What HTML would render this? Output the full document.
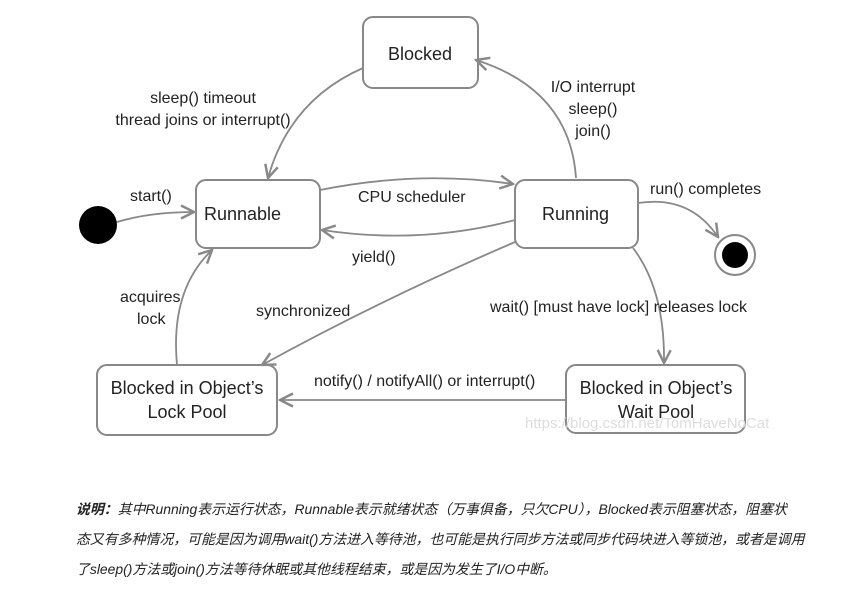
<!DOCTYPE html>
<html><head><meta charset="utf-8"><style>
body{margin:0;background:#fff;width:852px;height:600px;overflow:hidden}
svg text{font-family:"Liberation Sans",sans-serif;font-size:16px;fill:#222}
.p{position:absolute;left:76px;font-family:"Liberation Sans","Noto Sans CJK SC",sans-serif;font-size:13.9px;font-style:italic;color:#222;white-space:nowrap}
</style></head><body>
<svg width="852" height="480" style="position:absolute;left:0;top:0">
<defs><marker id="a" viewBox="0 0 10 10" refX="9" refY="5" markerWidth="9" markerHeight="9" orient="auto"><path d="M1,1 L9,5 L1,9" fill="none" stroke="#888" stroke-width="1.5"/></marker></defs>
<g fill="#fff" stroke="#888" stroke-width="2">
<rect x="363" y="17" width="115" height="71" rx="10"/>
<rect x="196" y="180" width="124" height="68" rx="10"/>
<rect x="515" y="180" width="123" height="68" rx="10"/>
<rect x="97" y="365" width="180" height="70" rx="10"/>
<rect x="566" y="365" width="179" height="68" rx="10"/>
</g>
<circle cx="98" cy="225" r="19" fill="#000"/>
<circle cx="735" cy="255" r="20" fill="#fff" stroke="#888" stroke-width="2"/>
<circle cx="735" cy="255" r="13" fill="#000"/>
<g fill="none" stroke="#888" stroke-width="1.8" marker-end="url(#a)">
<path d="M117,222 Q150,212 194,212"/>
<path d="M363,68 Q290,100 268,178"/>
<path d="M320,190 Q420,170 513,184"/>
<path d="M515,220 Q420,245 322,230"/>
<path d="M576,178 Q570,90 476,60"/>
<path d="M638,203 Q690,195 718,237"/>
<path d="M633,248 Q665,290 664,363"/>
<path d="M515,242 Q380,300 262,365"/>
<path d="M566,400 L280,400"/>
<path d="M177,365 Q170,290 212,250"/>
</g>
<text x="204" y="220" style="font-size:18px">Runnable</text>
<text x="388" y="60" style="font-size:18px">Blocked</text>
<text x="542" y="220" style="font-size:18px">Running</text>
<text x="187" y="394" text-anchor="middle" style="font-size:18px">Blocked in Object’s</text>
<text x="187" y="418" text-anchor="middle" style="font-size:18px">Lock Pool</text>
<text x="656" y="394" text-anchor="middle" style="font-size:18px">Blocked in Object’s</text>
<text x="656" y="418" text-anchor="middle" style="font-size:18px">Wait Pool</text>
<text x="130" y="201">start()</text>
<text x="203" y="103" text-anchor="middle">sleep() timeout</text>
<text x="203" y="125" text-anchor="middle">thread joins or interrupt()</text>
<text x="593" y="92" text-anchor="middle">I/O interrupt</text>
<text x="593" y="114" text-anchor="middle">sleep()</text>
<text x="593" y="136" text-anchor="middle">join()</text>
<text x="358" y="202">CPU scheduler</text>
<text x="352" y="262">yield()</text>
<text x="650" y="194">run() completes</text>
<text x="490" y="312">wait() [must have lock] releases lock</text>
<text x="256" y="316">synchronized</text>
<text x="120" y="302">acquires</text>
<text x="137" y="324">lock</text>
<text x="314" y="386">notify() / notifyAll() or interrupt()</text>
<text x="525" y="428" style="fill:#ddd;font-size:15px">https://blog.csdn.net/TomHaveNoCat</text>
</svg>
<div class="p" style="top:499px"><b>说明：</b>其中Running表示运行状态，Runnable表示就绪状态（万事俱备，只欠CPU），Blocked表示阻塞状态，阻塞状</div>
<div class="p" style="top:529px">态又有多种情况，可能是因为调用wait()方法进入等待池，也可能是执行同步方法或同步代码块进入等锁池，或者是调用</div>
<div class="p" style="top:559px">了sleep()方法或join()方法等待休眠或其他线程结束，或是因为发生了I/O中断。</div>
</body></html>
